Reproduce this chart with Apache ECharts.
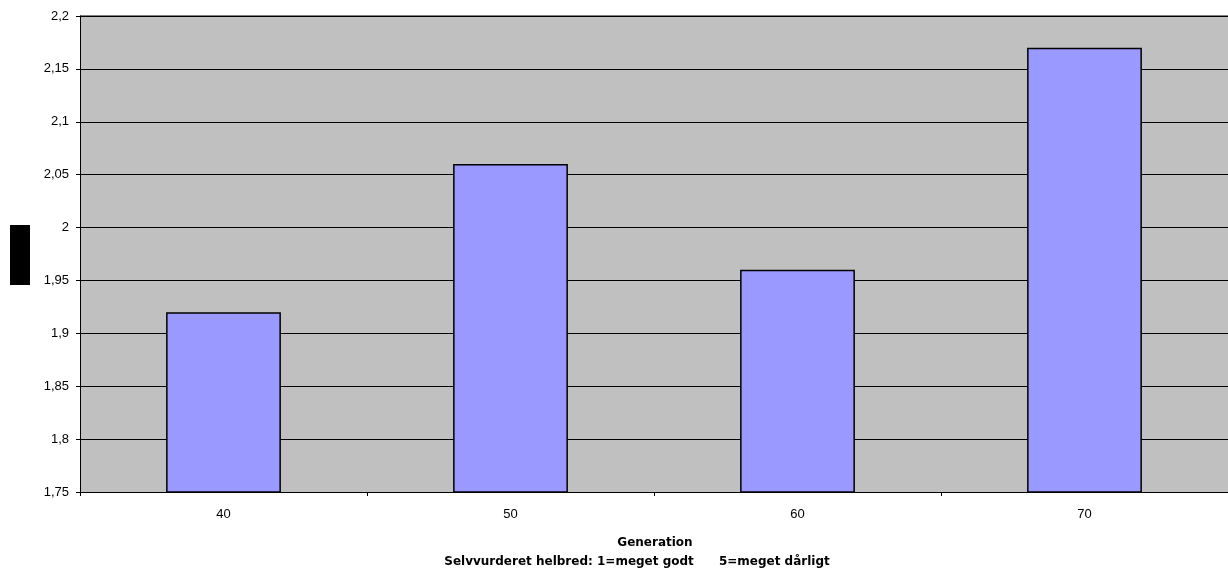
<!DOCTYPE html>
<html><head><meta charset="utf-8">
<script src="https://cdn.jsdelivr.net/npm/echarts@6/dist/echarts.min.js"></script>
<style>html,body{margin:0;padding:0;background:#fff}#c{width:1228px;height:579px}</style>
</head><body><div id="c"></div>
<script>
var categories = ['40', '50', '60', '70'];
var values = [1.92, 2.06, 1.96, 2.17];
var xTitle = 'Generation';
var xSubtitle = 'Selvvurderet helbred: 1=meget godt      5=meget dårligt';

var chart = echarts.init(document.getElementById('c'));
chart.setOption({
  animation: false,
  backgroundColor: '#fff',
  grid: { left: 80, right: 0, top: 16, bottom: 87, backgroundColor: '#C0C0C0', show: true, borderWidth: 0 },
  graphic: [
    { type: 'rect', left: 10, top: 225, shape: { width: 20, height: 60 }, style: { fill: '#000' } },
    { type: 'line', shape: { x1: 80, y1: 16, x2: 1228, y2: 16 }, style: { stroke: '#808080', lineWidth: 2 } },
    { type: 'text', x: 655, y: 537, style: { text: xTitle, font: 'bold 12px "DejaVu Sans"', fill: '#000', textAlign: 'center' } },
    { type: 'text', x: 637, y: 556, style: { text: xSubtitle, font: 'bold 12px "DejaVu Sans"', fill: '#000', textAlign: 'center' } }
  ],
  xAxis: {
    type: 'category',
    data: categories,
    axisLine: { lineStyle: { color: '#000', width: 1 } },
    axisTick: { show: true, length: 4, lineStyle: { color: '#000' } },
    axisLabel: { color: '#000', fontSize: 13, fontFamily: 'Liberation Sans', margin: 16 },
    splitLine: { show: false }
  },
  yAxis: {
    type: 'value',
    min: 1.75, max: 2.2, interval: 0.05,
    axisLine: { show: true, lineStyle: { color: '#000', width: 1 } },
    axisTick: { show: true, length: 4, lineStyle: { color: '#000' } },
    axisLabel: { color: '#000', fontSize: 13, fontFamily: 'Liberation Sans', margin: 11,
      formatter: function (v) { return String(Math.round(v * 100) / 100).replace('.', ','); } },
    splitLine: { show: true, lineStyle: { color: '#000', width: 1 } }
  },
  series: [{
    type: 'bar',
    data: values,
    barWidth: '40%',
    itemStyle: { color: '#9999FF', borderColor: '#000', borderWidth: 1.5 }
  }]
});
</script></body></html>
